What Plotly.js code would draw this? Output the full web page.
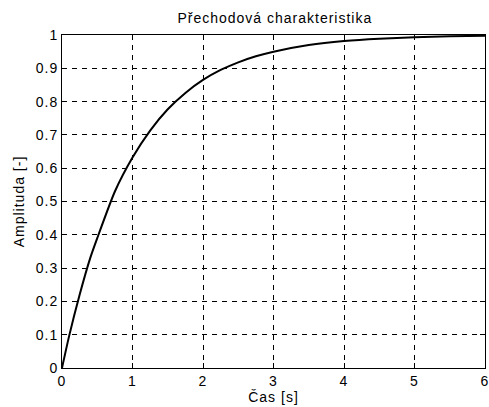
<!DOCTYPE html>
<html>
<head>
<meta charset="utf-8">
<script src="https://cdn.plot.ly/plotly-3.0.1.min.js"></script>
<style>html,body{margin:0;padding:0;background:#fff;} .main-svg text{letter-spacing:1px;}</style>
</head>
<body>
<div id="chart" style="width:489px;height:407px;"></div>
<script>
// Values
const casS = [0, 0.1, 0.25, 0.4, 0.5, 0.75, 1, 1.25, 1.5, 1.75, 2, 2.25, 2.5, 2.75, 3, 3.5, 4, 4.5, 5, 5.5, 6];
const amplituda = [0, 0.095, 0.22, 0.33, 0.39, 0.53, 0.632, 0.713, 0.777, 0.826, 0.865, 0.895, 0.918, 0.936, 0.950, 0.970, 0.982, 0.989, 0.993, 0.996, 0.998];
const xTicks = [0, 1, 2, 3, 4, 5, 6];
const yTicks = [0, 0.1, 0.2, 0.3, 0.4, 0.5, 0.6, 0.7, 0.8, 0.9, 1];
const titleText = 'Přechodová charakteristika';
const xTitle = 'Čas [s]';
const yTitle = 'Amplituda [-]';

const fontFam = '"Liberation Sans", Arial, sans-serif';
const axisCommon = {
  showline: true, linecolor: '#000', linewidth: 1, mirror: 'ticks',
  ticks: 'inside', ticklen: 5, tickcolor: '#000', tickwidth: 1,
  showgrid: true, gridcolor: '#000', gridwidth: 1, griddash: '5px,5px',
  zeroline: false, ticklabeloverflow: 'allow',
  tickfont: {family: fontFam, size: 14, color: '#000'}
};

Plotly.newPlot('chart', [{
  x: casS, y: amplituda, type: 'scatter', mode: 'lines',
  line: {color: '#000', width: 2, shape: 'spline', smoothing: 0.6},
  hoverinfo: 'skip'
}], {
  width: 489, height: 407,
  margin: {l: 62, r: 4, t: 35, b: 39},
  paper_bgcolor: '#fff', plot_bgcolor: '#fff',
  showlegend: false,
  title: {text: titleText, font: {family: fontFam, size: 14, color: '#000'}, x: 0.562, xanchor: 'center', y: 0.955, yanchor: 'middle'},
  xaxis: Object.assign({}, axisCommon, {
    range: [0, 6], tickvals: xTicks, ticktext: xTicks.map(String),
    title: {text: xTitle, font: {family: fontFam, size: 14, color: '#000'}, standoff: 2}
  }),
  yaxis: Object.assign({}, axisCommon, {
    range: [0, 1], tickvals: yTicks, ticktext: yTicks.map(String),
    title: {text: yTitle, font: {family: fontFam, size: 14, color: '#000'}, standoff: 10}
  })
}, {displayModeBar: false, staticPlot: true});
</script>
</body>
</html>
